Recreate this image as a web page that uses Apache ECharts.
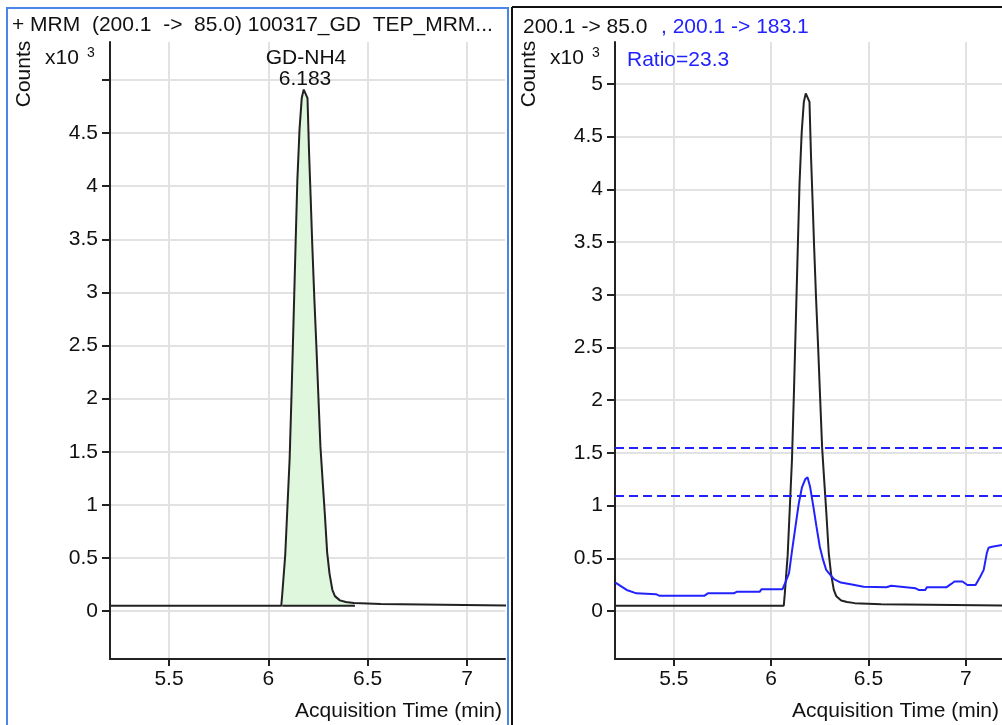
<!DOCTYPE html>
<html><head><meta charset="utf-8">
<script src="https://cdn.jsdelivr.net/npm/echarts@6/dist/echarts.min.js"></script>
<style>html,body{margin:0;padding:0;background:#fff}#c{width:1002px;height:725px}</style>
</head><body><div id="c"></div><script>
// ---- data (counts in x10^3, time in min) ----
const quantTime = [5.20, 6.065, 6.070, 6.085, 6.095, 6.107, 6.117, 6.127, 6.137, 6.146, 6.157, 6.168, 6.178, 6.188, 6.197, 6.205, 6.213, 6.221, 6.231, 6.242, 6.252, 6.262, 6.273, 6.284, 6.296, 6.308, 6.322, 6.335, 6.36, 6.39, 6.43, 6.436, 6.565, 6.57, 7.25];
const quantCounts = [0.05, 0.05, 0.16, 0.53, 0.94, 1.43, 2.06, 2.75, 3.45, 4.06, 4.54, 4.83, 4.91, 4.91, 4.83, 4.31, 3.89, 3.45, 2.96, 2.48, 2.01, 1.55, 1.23, 0.92, 0.55, 0.35, 0.20, 0.14, 0.10, 0.085, 0.075, 0.065, 0.065, 0.05, 0.05];
const qualTime = [5.20, 5.258, 5.308, 5.408, 5.425, 5.658, 5.675, 5.808, 5.825, 5.942, 5.95, 6.058, 6.075, 6.092, 6.108, 6.125, 6.142, 6.158, 6.175, 6.187, 6.20, 6.217, 6.233, 6.25, 6.267, 6.283, 6.305, 6.325, 6.358, 6.408, 6.475, 6.592, 6.617, 6.625, 6.742, 6.758, 6.792, 6.80, 6.90, 6.925, 6.942, 6.983, 7.008, 7.05, 7.075, 7.092, 7.108, 7.117, 7.135, 7.20];
const qualCounts = [0.27, 0.20, 0.168, 0.16, 0.146, 0.146, 0.168, 0.168, 0.184, 0.184, 0.206, 0.206, 0.28, 0.36, 0.58, 0.80, 1.02, 1.17, 1.25, 1.27, 1.18, 0.99, 0.80, 0.61, 0.485, 0.39, 0.34, 0.30, 0.27, 0.254, 0.23, 0.225, 0.24, 0.225, 0.216, 0.20, 0.20, 0.225, 0.225, 0.257, 0.28, 0.28, 0.247, 0.247, 0.327, 0.39, 0.55, 0.60, 0.61, 0.63];
const integration = [6.07, 6.436];      // integrated peak range
const integBaseline = 0.05;             // integration baseline
const ratioLimits = [1.094, 1.554];     // qualifier ratio window
const compound = 'GD-NH4';
const peakRT = '6.183';
const ratioText = 'Ratio=23.3';
const xTicks = [5.5, 6, 6.5, 7];
const yTicks = [0, 0.5, 1, 1.5, 2, 2.5, 3, 3.5, 4, 4.5, 5];
const yLabelsLeft = [0, 0.5, 1, 1.5, 2, 2.5, 3, 3.5, 4, 4.5];
const yLabelsRight = [0, 0.5, 1, 1.5, 2, 2.5, 3, 3.5, 4, 4.5, 5];
const titleLeft = '+ MRM  (200.1  ->  85.0) 100317_GD  TEP_MRM...';
const titleRightA = '200.1 -> 85.0';
const titleRightB = ', 200.1 -> 183.1';
const xName = 'Acquisition Time (min)';
const yName = 'Counts';

// ---- build ----
const quant = quantTime.map((t, i) => [t, quantCounts[i]]);
const qual = qualTime.map((t, i) => [t, qualCounts[i]]);
const filled = quant.filter(p => p[0] >= integration[0] && p[0] <= integration[1]);
const fillData = [[integration[0], integBaseline]].concat(filled);
const baseLine = [[integration[0], integBaseline], [integration[1], integBaseline]];

const FONT = '"Liberation Sans", Arial, sans-serif';
const FS = 21;
const BLUE = '#2222ff';
const INK = '#111';
const xRange = [[5.203, 7.191], [5.198, 7.186]];
const yRange = [[-0.452, 5.358], [-0.455, 5.398]];

function xAxis(i) {
  return {
    type: 'value', gridIndex: i, min: xRange[i][0], max: xRange[i][1],
    splitNumber: 4, minInterval: 0.5, maxInterval: 0.5,
    axisLine: { onZero: false, lineStyle: { color: '#222', width: 2 } },
    axisTick: { length: 7, lineStyle: { color: '#222', width: 2 }, customValues: xTicks },
    axisLabel: { color: INK, fontSize: FS, fontFamily: FONT, margin: 10, customValues: xTicks },
    splitLine: { show: true, lineStyle: { color: '#e2e2e2', width: 2 } },
    name: xName, nameLocation: 'end', nameGap: -3,
    nameTextStyle: { align: 'right', verticalAlign: 'top', padding: [42, 0, 0, 0], fontSize: FS, fontFamily: FONT, color: INK }
  };
}
function yAxis(i, labels) {
  return {
    type: 'value', gridIndex: i, min: yRange[i][0], max: yRange[i][1],
    splitNumber: 11, minInterval: 0.5, maxInterval: 0.5,
    axisLine: { show: true, onZero: false, lineStyle: { color: '#222', width: 2 } },
    axisTick: { show: true, length: 8, lineStyle: { color: '#222', width: 2 }, customValues: yTicks },
    axisLabel: { color: INK, fontSize: FS, fontFamily: FONT, margin: 12, customValues: labels },
    splitLine: { show: true, lineStyle: { color: '#e2e2e2', width: 2 } }
  };
}
function txt(x, y, text, opts) {
  return {
    type: 'text', x: x, y: y, silent: true, z: 100, zlevel: 0,
    style: Object.assign({ text: text, fill: INK, font: FS + 'px ' + FONT, align: 'left', verticalAlign: 'middle', textAlign: 'left', textVerticalAlign: 'middle' }, opts || {})
  };
}

const chart = echarts.init(document.getElementById('c'), null, { renderer: 'canvas' });
chart.setOption({
  animation: false,
  backgroundColor: '#fff',
  textStyle: { fontFamily: FONT },
  grid: [
    { left: 110, top: 42, width: 395, height: 617 },
    { left: 615, top: 42, width: 395, height: 617 }
  ],
  xAxis: [xAxis(0), xAxis(1)],
  yAxis: [yAxis(0, yLabelsLeft), yAxis(1, yLabelsRight)],
  series: [
    { type: 'line', xAxisIndex: 0, yAxisIndex: 0, data: fillData, symbol: 'none', z: 2,
      lineStyle: { width: 0 }, areaStyle: { color: '#dff7dc', opacity: 1, origin: integBaseline } },
    { type: 'line', xAxisIndex: 0, yAxisIndex: 0, data: baseLine, symbol: 'none', z: 3,
      lineStyle: { color: '#222', width: 2 } },
    { type: 'line', xAxisIndex: 0, yAxisIndex: 0, data: quant, symbol: 'none', z: 4,
      lineStyle: { color: '#222', width: 2 } },
    { type: 'line', xAxisIndex: 1, yAxisIndex: 1, data: quant, symbol: 'none', z: 4,
      lineStyle: { color: '#222', width: 2 } },
    { type: 'line', xAxisIndex: 1, yAxisIndex: 1, data: qual, symbol: 'none', z: 5,
      lineStyle: { color: BLUE, width: 2 },
      markLine: { symbol: 'none', silent: true, label: { show: false },
        lineStyle: { color: BLUE, width: 2, type: [9, 5] },
        data: ratioLimits.map(v => ({ yAxis: v })) } }
  ],
  graphic: {
    elements: [
      { type: 'rect', silent: true, z: 100, shape: { x: 7, y: 8, width: 501, height: 740 }, style: { fill: null, stroke: '#4a86e8', lineWidth: 2 } },
      { type: 'line', silent: true, z: 100, shape: { x1: 512, y1: 7, x2: 512, y2: 725 }, style: { stroke: '#111', lineWidth: 2 } },
      { type: 'line', silent: true, z: 100, shape: { x1: 512, y1: 7, x2: 1002, y2: 7 }, style: { stroke: '#111', lineWidth: 2 } },
      txt(12, 25, titleLeft),
      txt(523, 27, titleRightA),
      txt(661, 27, titleRightB, { fill: BLUE }),
      txt(627, 60, ratioText, { fill: BLUE }),
      txt(45, 58, 'x10'),
      txt(87, 53, '3', { font: '14px ' + FONT }),
      txt(550, 58, 'x10'),
      txt(592, 53, '3', { font: '14px ' + FONT }),
      Object.assign(txt(24, 74, yName, { align: 'center', textAlign: 'center' }), { rotation: Math.PI / 2 }),
      Object.assign(txt(529, 74, yName, { align: 'center', textAlign: 'center' }), { rotation: Math.PI / 2 }),
      txt(306, 58, compound, { align: 'center', textAlign: 'center' }),
      txt(305, 79, peakRT, { align: 'center', textAlign: 'center' })
    ]
  }
});
</script></body></html>
